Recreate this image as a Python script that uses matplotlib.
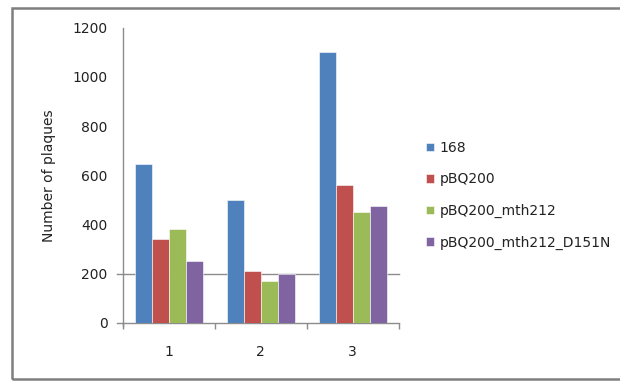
import matplotlib
matplotlib.use("Agg")
import matplotlib.pyplot as plt
from matplotlib.patches import Rectangle
import numpy as np

categories = ["1", "2", "3"]
series_names = ["168", "pBQ200", "pBQ200_mth212", "pBQ200_mth212_D151N"]
values_168 = [645, 500, 1100]
values_pbq200 = [340, 210, 560]
values_mth212 = [380, 170, 450]
values_d151n = [250, 200, 475]
series_colors = ["#4F81BD", "#C0504D", "#9BBB59", "#8064A2"]
y_ticks = [0, 200, 400, 600, 800, 1000, 1200]

plt.rcParams["font.family"] = ["DejaVu Sans"]
fs = 10
axis_gray = "#8C8C8C"
text_color = "#222222"

fig = plt.figure(figsize=(6.2, 3.81), dpi=100)
ax = fig.add_axes([0.198, 0.153, 0.445, 0.774])

series = [values_168, values_pbq200, values_mth212, values_d151n]
x = np.arange(len(categories))
w = 0.185
handles = []
for i, (vals, col, name) in enumerate(zip(series, series_colors, series_names)):
    b = ax.bar(x + (i - 1.5) * w, vals, width=w, color=col, edgecolor="white",
               linewidth=0.4, label=name, zorder=3)
    handles.append(b)

ax.set_xlim(-0.5, 2.5)
ax.set_ylim(0, 1200)
ax.set_yticks(y_ticks)
ax.set_yticklabels([str(t) for t in y_ticks], fontsize=fs, color=text_color)
ax.tick_params(axis="y", length=0, pad=11)

# category separators as x-axis ticks
ax.set_xticks([-0.5, 0.5, 1.5, 2.5], minor=True)
ax.set_xticks(x)
ax.set_xticklabels(categories, fontsize=fs, color=text_color)
ax.tick_params(axis="x", which="major", length=0, pad=16)
ax.tick_params(axis="x", which="minor", length=4, color=axis_gray, width=1)

for side in ["top", "right"]:
    ax.spines[side].set_visible(False)
for side in ["left", "bottom"]:
    ax.spines[side].set_color(axis_gray)
    ax.spines[side].set_linewidth(1)

# single horizontal guide at 200 with outward stubs at 200 and 0
ax.axhline(200, xmin=-0.022, xmax=1, color=axis_gray, linewidth=1, clip_on=False, zorder=1)
ax.plot([-0.022, 0], [0, 0], transform=ax.get_yaxis_transform(), color=axis_gray,
        linewidth=1, clip_on=False)
ax.plot([0, 0], [-0.012, 0], transform=ax.transAxes, color=axis_gray,
        linewidth=1, clip_on=False)

ax.set_ylabel("Number of plaques", fontsize=fs, color=text_color, labelpad=12)

leg = fig.legend(handles=handles, labels=series_names, loc="upper left",
                 bbox_to_anchor=(0.687, 0.630), frameon=False, fontsize=fs,
                 handlelength=0.6, handleheight=0.6, handletextpad=0.4,
                 labelspacing=1.26, borderpad=0, borderaxespad=0)
for t in leg.get_texts():
    t.set_color(text_color)

# outer chart frame
frame = Rectangle((12 / 620, 2 / 381), 1.2, 371 / 381, transform=fig.transFigure,
                  fill=False, edgecolor="#7F7F7F", linewidth=1.8, clip_on=False)
fig.patches.append(frame)

fig.savefig("out.png", dpi=100)
